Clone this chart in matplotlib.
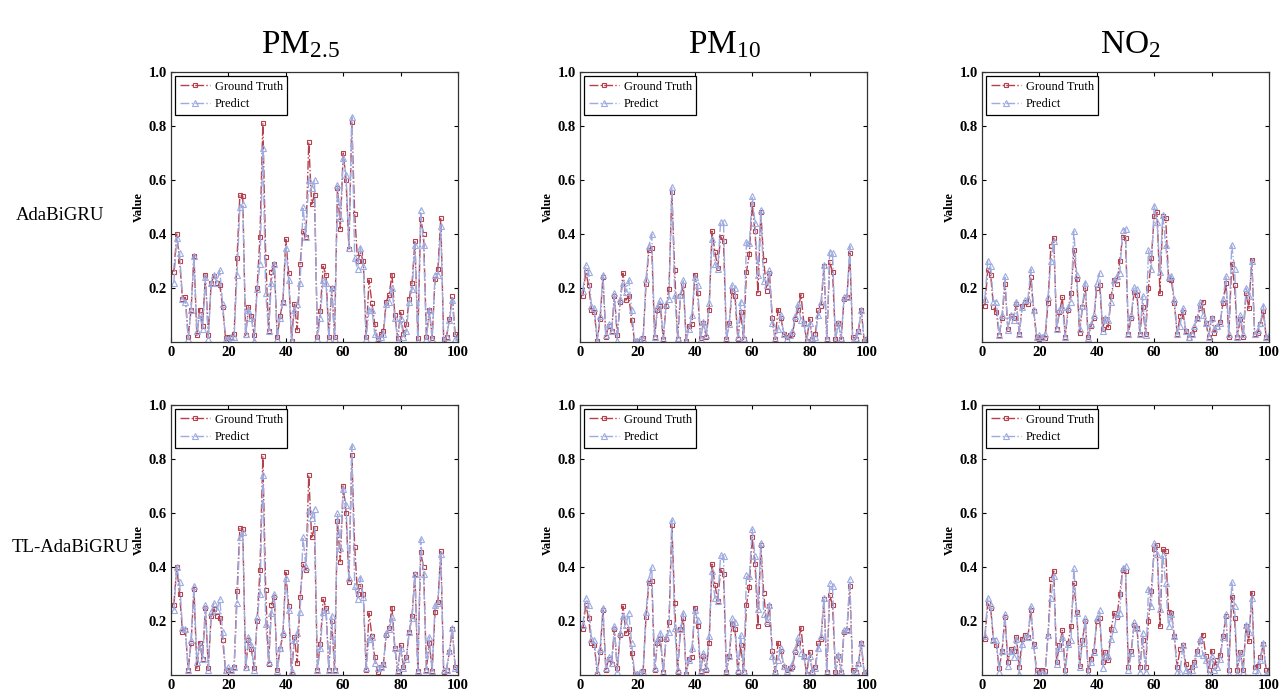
import numpy as np
import matplotlib.pyplot as plt

# time steps and series
steps = np.arange(1, 101)

pm25_true = [0.26, 0.40, 0.30, 0.16, 0.165, 0.02, 0.12, 0.32, 0.025, 0.12,
             0.06, 0.25, 0.025, 0.22, 0.245, 0.22, 0.21, 0.13, 0.015, 0.02,
             0.02, 0.03, 0.31, 0.545, 0.54, 0.025, 0.13, 0.095, 0.025, 0.20,
             0.39, 0.81, 0.315, 0.04, 0.26, 0.29, 0.02, 0.095, 0.15, 0.38,
             0.255, 0.005, 0.14, 0.045, 0.29, 0.41, 0.39, 0.74, 0.51, 0.545,
             0.02, 0.115, 0.28, 0.25, 0.02, 0.20, 0.02, 0.57, 0.42, 0.70,
             0.60, 0.345, 0.815, 0.475, 0.30, 0.33, 0.30, 0.02, 0.23, 0.145,
             0.065, 0.01, 0.03, 0.04, 0.15, 0.175, 0.25, 0.10, 0.015, 0.11,
             0.03, 0.065, 0.16, 0.22, 0.375, 0.015, 0.455, 0.40, 0.02, 0.12,
             0.015, 0.235, 0.27, 0.46, 0.01, 0.02, 0.085, 0.17, 0.03, 0.02]
pm25_ada = [0.22, 0.385, 0.33, 0.16, 0.15, 0.01, 0.12, 0.32, 0.04, 0.10,
            0.05, 0.24, 0.01, 0.22, 0.25, 0.22, 0.265, 0.14, 0.01, 0.01,
            0.02, 0.02, 0.25, 0.50, 0.51, 0.03, 0.12, 0.09, 0.005, 0.195,
            0.29, 0.72, 0.18, 0.04, 0.22, 0.29, 0.01, 0.09, 0.15, 0.35,
            0.23, 0.005, 0.12, 0.14, 0.22, 0.50, 0.39, 0.60, 0.57, 0.60,
            0.01, 0.09, 0.23, 0.22, 0.01, 0.20, 0.01, 0.58, 0.46, 0.68,
            0.62, 0.35, 0.835, 0.31, 0.27, 0.35, 0.28, 0.01, 0.12, 0.12,
            0.03, 0.01, 0.02, 0.03, 0.14, 0.15, 0.20, 0.09, 0.005, 0.09,
            0.02, 0.04, 0.15, 0.195, 0.36, 0.005, 0.49, 0.36, 0.01, 0.12,
            0.01, 0.25, 0.25, 0.43, 0.005, 0.02, 0.08, 0.155, 0.01, 0.02]
pm25_tl = [0.24, 0.40, 0.345, 0.175, 0.17, 0.02, 0.13, 0.33, 0.05, 0.11,
           0.06, 0.26, 0.02, 0.235, 0.265, 0.24, 0.28, 0.16, 0.02, 0.03,
           0.02, 0.03, 0.265, 0.51, 0.53, 0.03, 0.14, 0.11, 0.02, 0.215,
           0.30, 0.74, 0.19, 0.05, 0.23, 0.30, 0.015, 0.10, 0.16, 0.36,
           0.24, 0.015, 0.13, 0.155, 0.235, 0.51, 0.40, 0.61, 0.58, 0.615,
           0.02, 0.10, 0.235, 0.24, 0.02, 0.22, 0.02, 0.60, 0.47, 0.69,
           0.63, 0.36, 0.85, 0.33, 0.28, 0.36, 0.29, 0.025, 0.135, 0.14,
           0.045, 0.025, 0.03, 0.04, 0.155, 0.17, 0.215, 0.10, 0.015, 0.10,
           0.025, 0.06, 0.16, 0.21, 0.375, 0.015, 0.505, 0.375, 0.02, 0.14,
           0.015, 0.26, 0.265, 0.45, 0.02, 0.02, 0.09, 0.175, 0.025, 0.025]

pm10_true = [0.17, 0.26, 0.21, 0.12, 0.11, 0.005, 0.085, 0.24, 0.02, 0.06,
             0.04, 0.17, 0.025, 0.15, 0.255, 0.155, 0.17, 0.08, 0.005, 0.005,
             0.005, 0.015, 0.215, 0.34, 0.35, 0.02, 0.12, 0.135, 0.01, 0.135,
             0.195, 0.555, 0.265, 0.01, 0.17, 0.21, 0.005, 0.06, 0.065, 0.25,
             0.18, 0.015, 0.07, 0.02, 0.12, 0.41, 0.335, 0.275, 0.39, 0.375,
             0.01, 0.07, 0.19, 0.17, 0.01, 0.11, 0.01, 0.26, 0.325, 0.51,
             0.41, 0.18, 0.48, 0.305, 0.19, 0.255, 0.09, 0.01, 0.12, 0.09,
             0.03, 0.02, 0.025, 0.03, 0.085, 0.12, 0.175, 0.07, 0.005, 0.085,
             0.01, 0.03, 0.12, 0.135, 0.28, 0.01, 0.295, 0.26, 0.01, 0.07,
             0.01, 0.16, 0.165, 0.33, 0.02, 0.01, 0.04, 0.12, 0.005, 0.01]
pm10_ada = [0.19, 0.285, 0.26, 0.135, 0.125, 0.005, 0.095, 0.25, 0.025, 0.065,
            0.04, 0.18, 0.005, 0.16, 0.22, 0.185, 0.23, 0.12, 0.005, 0.005,
            0.01, 0.01, 0.235, 0.355, 0.40, 0.02, 0.13, 0.155, 0.01, 0.14,
            0.16, 0.575, 0.175, 0.015, 0.175, 0.23, 0.005, 0.05, 0.10, 0.24,
            0.21, 0.01, 0.075, 0.025, 0.145, 0.38, 0.29, 0.27, 0.445, 0.445,
            0.01, 0.065, 0.21, 0.20, 0.02, 0.15, 0.015, 0.37, 0.365, 0.54,
            0.44, 0.25, 0.49, 0.225, 0.21, 0.265, 0.07, 0.01, 0.05, 0.10,
            0.03, 0.01, 0.025, 0.04, 0.095, 0.14, 0.08, 0.07, 0.005, 0.07,
            0.015, 0.02, 0.10, 0.15, 0.285, 0.01, 0.335, 0.33, 0.005, 0.07,
            0.015, 0.165, 0.165, 0.355, 0.005, 0.015, 0.04, 0.12, 0.005, 0.015]
pm10_tl = [0.185, 0.285, 0.26, 0.135, 0.13, 0.01, 0.095, 0.25, 0.025, 0.065,
           0.045, 0.18, 0.01, 0.155, 0.22, 0.185, 0.23, 0.12, 0.005, 0.005,
           0.01, 0.01, 0.235, 0.355, 0.40, 0.025, 0.13, 0.155, 0.01, 0.14,
           0.16, 0.575, 0.175, 0.02, 0.17, 0.23, 0.005, 0.055, 0.10, 0.24,
           0.205, 0.015, 0.08, 0.025, 0.145, 0.385, 0.285, 0.275, 0.445, 0.44,
           0.01, 0.07, 0.21, 0.195, 0.02, 0.15, 0.015, 0.37, 0.365, 0.54,
           0.44, 0.245, 0.49, 0.225, 0.20, 0.26, 0.07, 0.015, 0.055, 0.10,
           0.035, 0.015, 0.025, 0.04, 0.095, 0.14, 0.08, 0.07, 0.005, 0.07,
           0.015, 0.025, 0.10, 0.145, 0.285, 0.01, 0.34, 0.33, 0.005, 0.075,
           0.015, 0.165, 0.165, 0.355, 0.005, 0.015, 0.045, 0.12, 0.005, 0.015]

no2_true = [0.135, 0.265, 0.25, 0.13, 0.11, 0.025, 0.09, 0.215, 0.05, 0.095,
            0.09, 0.14, 0.03, 0.135, 0.15, 0.14, 0.24, 0.115, 0.02, 0.01,
            0.02, 0.015, 0.145, 0.355, 0.385, 0.05, 0.11, 0.165, 0.02, 0.12,
            0.18, 0.34, 0.235, 0.035, 0.13, 0.20, 0.02, 0.06, 0.09, 0.20,
            0.21, 0.05, 0.085, 0.055, 0.17, 0.23, 0.215, 0.30, 0.39, 0.385,
            0.03, 0.09, 0.185, 0.175, 0.03, 0.13, 0.03, 0.20, 0.31, 0.465,
            0.48, 0.18, 0.465, 0.46, 0.235, 0.23, 0.145, 0.03, 0.095, 0.11,
            0.04, 0.015, 0.03, 0.05, 0.09, 0.125, 0.15, 0.07, 0.02, 0.09,
            0.035, 0.055, 0.075, 0.145, 0.22, 0.02, 0.29, 0.21, 0.02, 0.085,
            0.02, 0.18, 0.125, 0.305, 0.03, 0.035, 0.065, 0.115, 0.02, 0.02]
no2_ada = [0.16, 0.30, 0.28, 0.15, 0.15, 0.025, 0.10, 0.245, 0.045, 0.10,
           0.08, 0.15, 0.03, 0.13, 0.155, 0.16, 0.27, 0.12, 0.02, 0.025,
           0.02, 0.03, 0.165, 0.30, 0.375, 0.05, 0.12, 0.13, 0.02, 0.13,
           0.15, 0.41, 0.25, 0.05, 0.135, 0.22, 0.015, 0.065, 0.10, 0.22,
           0.255, 0.04, 0.09, 0.08, 0.15, 0.23, 0.245, 0.255, 0.415, 0.42,
           0.03, 0.10, 0.205, 0.195, 0.03, 0.17, 0.025, 0.34, 0.27, 0.505,
           0.445, 0.26, 0.47, 0.36, 0.24, 0.245, 0.16, 0.03, 0.06, 0.125,
           0.04, 0.02, 0.03, 0.06, 0.09, 0.15, 0.10, 0.07, 0.02, 0.09,
           0.05, 0.06, 0.07, 0.16, 0.245, 0.03, 0.36, 0.27, 0.02, 0.10,
           0.03, 0.20, 0.17, 0.30, 0.03, 0.045, 0.07, 0.135, 0.02, 0.025]
no2_tl = [0.145, 0.285, 0.26, 0.13, 0.13, 0.01, 0.09, 0.225, 0.035, 0.09,
          0.065, 0.135, 0.005, 0.115, 0.14, 0.14, 0.255, 0.11, 0.01, 0.005,
          0.01, 0.005, 0.15, 0.285, 0.365, 0.04, 0.10, 0.14, 0.005, 0.115,
          0.13, 0.395, 0.23, 0.03, 0.12, 0.21, 0.005, 0.05, 0.085, 0.21,
          0.24, 0.025, 0.075, 0.07, 0.135, 0.17, 0.225, 0.23, 0.395, 0.405,
          0.02, 0.08, 0.195, 0.175, 0.01, 0.155, 0.01, 0.32, 0.255, 0.49,
          0.45, 0.245, 0.445, 0.34, 0.18, 0.225, 0.145, 0.01, 0.01, 0.11,
          0.02, 0.005, 0.02, 0.04, 0.08, 0.135, 0.075, 0.055, 0.005, 0.07,
          0.02, 0.03, 0.06, 0.14, 0.225, 0.005, 0.345, 0.255, 0.005, 0.08,
          0.01, 0.185, 0.16, 0.285, 0.02, 0.01, 0.055, 0.12, 0.005, 0.01]

pollutants = ["PM$_{2.5}$", "PM$_{10}$", "NO$_{2}$"]
models = ["AdaBiGRU", "TL-AdaBiGRU"]
truth = [pm25_true, pm10_true, no2_true]
preds = [[pm25_ada, pm10_ada, no2_ada], [pm25_tl, pm10_tl, no2_tl]]

plt.rcParams["font.family"] = ["Liberation Serif", "DejaVu Serif"]
plt.rcParams["mathtext.default"] = "regular"

true_color = "#b5404e"
pred_color = "#9eabe0"

fig = plt.figure(figsize=(12.85, 6.94), dpi=100)
lefts = [171 / 1285, 580 / 1285, 982 / 1285]
bottoms = [1 - 342 / 694, 1 - 675 / 694]
w, h = 287 / 1285, 270 / 694

for r in range(2):
    for c in range(3):
        ax = fig.add_axes([lefts[c], bottoms[r], w, h])
        ax.plot(steps, truth[c], linestyle="-.", color=true_color, lw=1.0,
                marker="s", ms=3.4, mfc="none", mew=0.8, label="Ground Truth")
        ax.plot(steps, preds[r][c], linestyle="-.", color=pred_color, lw=1.0,
                marker="^", ms=5.0, mfc="none", mew=0.8, label="Predict")
        ax.set_xlim(0, 100)
        ax.set_ylim(0, 1.0)
        ax.set_xticks([0, 20, 40, 60, 80, 100])
        ax.set_yticks([0.2, 0.4, 0.6, 0.8, 1.0])
        ax.tick_params(direction="in", right=True, top=True, length=3,
                       labelsize=10.5, pad=3)
        for lab in ax.get_xticklabels() + ax.get_yticklabels():
            lab.set_fontweight("bold")
        for sp in ax.spines.values():
            sp.set_linewidth(0.9)
            sp.set_color("#333333")
        ax.set_ylabel("Value", fontsize=9, fontweight="bold", labelpad=3)
        leg = ax.legend(loc="upper left", fontsize=9, fancybox=False,
                        framealpha=1, edgecolor="black", handlelength=2.4,
                        borderaxespad=0.35, labelspacing=0.45,
                        borderpad=0.35, handletextpad=0.4)
        leg.get_frame().set_linewidth(0.9)

title_x = [300 / 1285, 724 / 1285, 1130 / 1285]
for c in range(3):
    fig.text(title_x[c], 1 - 45 / 694, pollutants[c], fontsize=24,
             ha="center", va="center")

fig.text(60 / 1285, 1 - 215 / 694, models[0], fontsize=13.5, ha="center", va="center")
fig.text(71 / 1285, 1 - 548 / 694, models[1], fontsize=13.5, ha="center", va="center")

fig.savefig("out.png", dpi=100)
